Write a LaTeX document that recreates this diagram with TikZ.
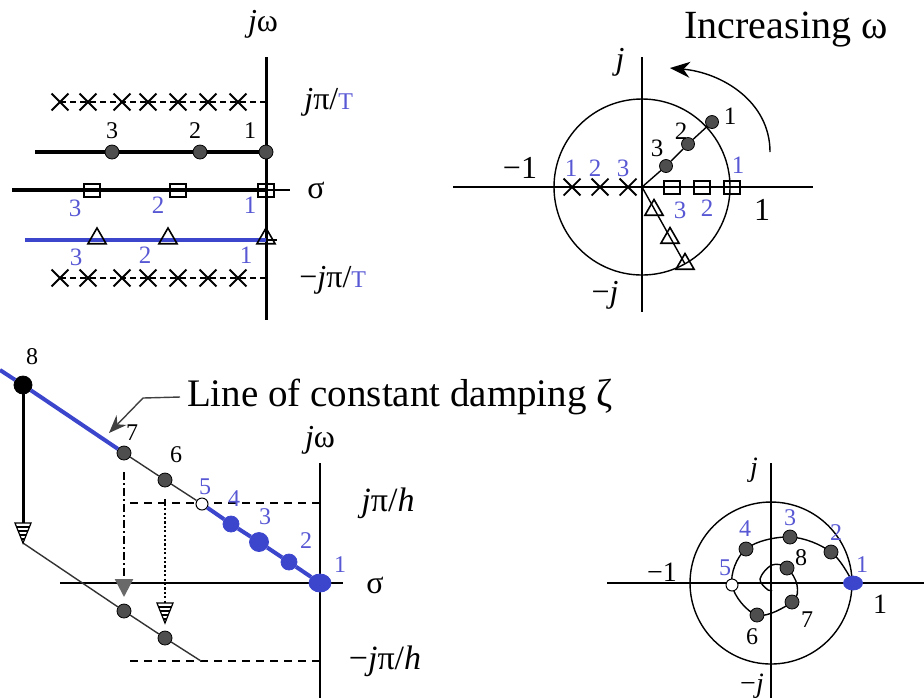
\documentclass[tikz,border=0pt]{standalone}
\usepackage{fontspec}
\setmainfont{Liberation Serif}
\usetikzlibrary{shapes.geometric, shapes.misc, arrows.meta}

\definecolor{zblue}{RGB}{60,70,205}
\definecolor{nblue}{RGB}{88,88,212}
\definecolor{dotgray}{RGB}{78,78,78}

% striped arrow head, tip at #1
\newcommand{\hatchhead}[1]{%
  \begin{scope}[shift={#1}]
    \draw[fill=white, line width=0.6pt] (-8,-20) -- (8,-20) -- (0,0) -- cycle;
    \foreach \s in {4,8,12,16}
      \draw[line width=0.9pt] (-0.4*\s,-\s) -- (0.4*\s,-\s);
  \end{scope}}

\begin{document}
\begin{tikzpicture}[x=0.5pt, y=-0.5pt,
    pole/.style={circle, draw=black, fill=dotgray, line width=0.4pt, inner sep=0, minimum size=7pt},
    opendot/.style={circle, draw=black, fill=white, line width=0.5pt, inner sep=0, minimum size=6pt},
    bluedot/.style={circle, draw=zblue, fill=zblue, inner sep=0, minimum size=8pt},
    sq/.style={rectangle, draw, line width=1pt, inner sep=0, minimum width=8pt, minimum height=6.5pt},
    tri/.style={regular polygon, regular polygon sides=3, draw, line width=0.8pt, inner sep=0, minimum size=10.5pt},
    xmark/.style={cross out, draw, line width=0.9pt, inner sep=0, minimum size=7.5pt},
    num/.style={font=\fontsize{12}{14}\selectfont, inner sep=1pt},
    bnum/.style={num, text=nblue, font=\fontsize{12.5}{14}\selectfont},
    lbl/.style={font=\fontsize{16}{19}\selectfont, inner sep=1pt},
    row/.style={line width=2pt},
    thinline/.style={line width=0.7pt}]
\useasboundingbox (0,0) rectangle (924,698);

% ---------- top left: s-plane strips ----------
\draw[line width=1.5pt] (266,57) -- (266,320);
\node[lbl] (jwa) at (263,24) {\textit{j}ω};
\node[lbl, anchor=west] (pta) at (302,102) {\textit{j}π/\textcolor{nblue}{\fontsize{12}{14}\selectfont T}};
\node[lbl, anchor=west] (sga) at (305,190) {σ};
\node[lbl, anchor=west] (mpta) at (297,280) {−\textit{j}π/\textcolor{nblue}{\fontsize{12}{14}\selectfont T}};

% crosses at the strip edges
\foreach \x [count=\i] in {60,88,122,148,178,208,238} {
  \node[xmark] (xa\i) at (\x,102) {};
  \node[xmark] (xb\i) at (\x,278) {};
}
\coordinate (xae) at (266,102);
\coordinate (xbe) at (266,278);
\draw[dash pattern=on 3pt off 2pt, line width=0.8pt] (xa1.center) -- (xae);
\draw[dash pattern=on 3pt off 2pt, line width=0.8pt] (xb1.center) -- (xbe);

% dots
\node[pole] (d1) at (266,152) {};
\node[pole] (d2) at (200,152) {};
\node[pole] (d3) at (112,152) {};
\coordinate (d0) at (35,152);
\draw[row] (d0) -- (d3) -- (d2) -- (d1);
\node[num] (nd3) at (112,131) {3};
\node[num] (nd2) at (195,131) {2};
\node[num] (nd1) at (250,131) {1};

% squares
\coordinate (s0) at (12,190);
\node[sq] (s3) at (92,190) {};
\node[sq] (s2) at (178,190) {};
\node[sq] (s1) at (266,190) {};
\coordinate (se) at (290,190);
\draw[row] (s0) -- (s1.center);
\draw[line width=1pt] (s1.center) -- (se);
\node[bnum] (ns3) at (75,208) {3};
\node[bnum] (ns2) at (158,205) {2};
\node[bnum] (ns1) at (250,205) {1};

% triangles
\coordinate (t0) at (25,240);
\coordinate (tm) at (266,240);
\coordinate (te) at (277,240);
\draw[row, zblue] (t0) -- (tm);
\draw[line width=1pt] (tm) -- (te);
\node[tri] (t3) at (97,238.5) {};
\node[tri] (t2) at (168,238.5) {};
\node[tri] (t1) at (266,238.5) {};
\node[bnum] (nt3) at (76,257) {3};
\node[bnum] (nt2) at (145,255) {2};
\node[bnum] (nt1) at (246,255) {1};

% ---------- top right: z-plane ----------
\coordinate (o1) at (642,187);
\draw[thinline] (453,187) -- (813,187);
\draw[thinline] (642,57) -- (642,312);
\draw[thinline] (o1) circle[radius=44pt];
\node[lbl] (jb) at (620,62) {\textit{j}};
\node[lbl] (mjb) at (605,295) {−\textit{j}};
\node[lbl] (m1b) at (520,168) {−1};
\node[lbl] (p1b) at (762,210) {1};

\node[xmark] (g1) at (572,187) {};
\node[xmark] (g2) at (600,187) {};
\node[xmark] (g3) at (628,187) {};
\node[bnum] (ng1) at (571,168) {1};
\node[bnum] (ng2) at (595,168) {2};
\node[bnum] (ng3) at (623,168) {3};

\node[sq] (h3) at (672,187) {};
\node[sq] (h2) at (702,187) {};
\node[sq] (h1) at (732,187) {};
\node[bnum] (nh3) at (680,210) {3};
\node[bnum] (nh2) at (707,208) {2};
\node[bnum] (nh1) at (738,165) {1};

\node[pole, minimum size=6.5pt] (e3) at (666,166) {};
\node[pole, minimum size=6.5pt] (e2) at (688,144) {};
\node[pole, minimum size=6.5pt] (e1) at (712,122) {};
\draw[thinline] (o1) -- (e3) -- (e2) -- (e1);
\node[num, font=\fontsize{12.5}{14}\selectfont] (ne3) at (657,148) {3};
\node[num, font=\fontsize{12.5}{14}\selectfont] (ne2) at (681,131) {2};
\node[num, font=\fontsize{12.5}{14}\selectfont] (ne1) at (730,116) {1};

\node[tri] (f3) at (654,210) {};
\node[tri] (f2) at (670,238) {};
\node[tri] (f1) at (685,264) {};
\draw[thinline] (o1) -- (f1.center);

\node[font=\fontsize{20}{24}\selectfont] (incw) at (786,30) {Increasing ω};
\coordinate (arc0) at (770,152);
\coordinate (arc1) at (670,68);
\draw[thinline, -{Stealth[length=10pt, width=8pt]}] (arc0) to[out=90, in=-5] (arc1);

% ---------- bottom left: s-plane, constant damping ----------
\draw[line width=1.3pt] (320,463) -- (320,698);
\draw[line width=1.3pt] (60,583) -- (343,583);
\node[lbl] (jwc) at (320,440) {\textit{j}ω};
\node[lbl] (sgc) at (375,585) {σ};
\node[lbl, font=\fontsize{17}{20}\selectfont] (ptc) at (388,503) {\textit{j}π/\textit{h}};
\node[lbl, font=\fontsize{17}{20}\selectfont] (mptc) at (385,661) {−\textit{j}π/\textit{h}};
\coordinate (hu0) at (130,503);
\coordinate (hu1) at (320,503);
\coordinate (hl0) at (130,661);
\coordinate (hl1) at (320,661);
\draw[dash pattern=on 4pt off 3pt, line width=0.8pt] (hu0) -- (hu1);
\draw[dash pattern=on 4pt off 3pt, line width=0.8pt] (hl0) -- (hl1);

% poles along the line of constant damping
\coordinate (p0) at (0,370);
\node[pole, fill=black, minimum size=9pt] (p8) at (23,385) {};
\node[pole] (p7) at (124,453) {};
\node[pole] (p6) at (165,480) {};
\node[opendot] (p5) at (202,504) {};
\node[bluedot] (p4) at (231,524) {};
\node[bluedot, minimum size=9.5pt] (p3) at (259,542) {};
\node[bluedot] (p2) at (289,562) {};
\node[ellipse, draw=zblue, fill=zblue, inner sep=0, minimum width=11pt, minimum height=9pt] (p1) at (320,583) {};
\draw[row, zblue] (p0) -- (p8) -- (p7);
\draw[thinline, black!80] (p7) -- (p6) -- (p5);
\draw[row, zblue] (p5) -- (p4) -- (p3) -- (p2) -- (p1);
\node[num] (np8) at (32,357) {8};
\node[num] (np7) at (132,433) {7};
\node[num] (np6) at (176,455) {6};
\node[bnum, font=\fontsize{12}{14}\selectfont] (np5) at (205,487) {5};
\node[bnum, font=\fontsize{12}{14}\selectfont] (np4) at (234,499) {4};
\node[bnum, font=\fontsize{12}{14}\selectfont] (np3) at (265,517) {3};
\node[bnum, font=\fontsize{12}{14}\selectfont] (np2) at (306,541) {2};
\node[bnum, font=\fontsize{12}{14}\selectfont] (np1) at (340,565) {1};

% aliased poles
\coordinate (q8) at (23,543);
\node[pole] (q7) at (124,611) {};
\node[pole] (q6) at (165,638) {};
\coordinate (qe) at (201,661);
\draw[thinline, black!80] (q8) -- (q7) -- (q6) -- (qe);

% mapping arrows
\coordinate (a8) at (23,523);
\draw[line width=1.5pt] (p8) -- (a8);
\hatchhead{(q8)}
\coordinate (a7) at (124,597);
\draw[line width=1.3pt, dash pattern=on 4pt off 1.5pt on 1pt off 1.5pt,
      -{Triangle[length=9pt, width=9pt, fill=dotgray!85, color=dotgray!85]}] ([yshift=-6pt]p7.south) -- (a7);
\coordinate (a6) at (165,603);
\draw[line width=1.3pt, dash pattern=on 1.1pt off 1.1pt] ([yshift=-6pt]p6.south) -- (a6);
\hatchhead{(165,623)}

% damping label
\node[font=\fontsize{19.5}{23}\selectfont, anchor=west] (ldamp) at (180,397) {Line of constant damping ζ};
\coordinate (lk) at (143,398);
\coordinate (lt) at (109,433);
\draw[thinline, black!75, -{Stealth[length=9pt, width=7pt]}] (ldamp.west) -- (lk) -- (lt);

% ---------- bottom right: z-plane spiral ----------
\coordinate (o2) at (771,583);
\draw[thinline] (607,583) -- (924,583);
\draw[thinline] (771,463) -- (771,698);
\draw[thinline] (o2) circle[radius=40.5pt];
\node[lbl, font=\fontsize{14}{16}\selectfont] (jd) at (754,470) {\textit{j}};
\node[lbl, font=\fontsize{14}{16}\selectfont] (mjd) at (752,686) {−\textit{j}};
\node[lbl, font=\fontsize{14}{16}\selectfont] (m1d) at (662,572) {−1};
\node[lbl, font=\fontsize{14}{16}\selectfont] (p1d) at (880,604) {1};

\coordinate (c1) at (853,583);
\coordinate (c2) at (831,552);
\coordinate (c3) at (790,537);
\coordinate (c4) at (746,549);
\coordinate (c5) at (732,585);
\coordinate (c6) at (757,615);
\coordinate (c7) at (792,602);
\coordinate (c8) at (787,568);
\draw[thinline] plot[smooth, tension=0.6] coordinates {(c1) (c2) (c3) (c4) (c5) (c6) (c7) (797,585) (c8) (772,565) (760,579) (768,590) (772,590)};
\node[ellipse, draw=zblue, fill=zblue, inner sep=0, minimum width=9.5pt, minimum height=7pt] (r1) at (c1) {};
\node[pole] (r2) at (c2) {};
\node[pole] (r3) at (c3) {};
\node[pole] (r4) at (c4) {};
\node[opendot] (r5) at (c5) {};
\node[pole] (r6) at (c6) {};
\node[pole] (r7) at (c7) {};
\node[pole] (r8) at (c8) {};
\node[bnum, font=\fontsize{12}{14}\selectfont] (nr1) at (862,565) {1};
\node[bnum, font=\fontsize{12}{14}\selectfont] (nr2) at (836,533) {2};
\node[bnum, font=\fontsize{12}{14}\selectfont] (nr3) at (790,518) {3};
\node[bnum, font=\fontsize{12}{14}\selectfont] (nr4) at (745,529) {4};
\node[bnum, font=\fontsize{12}{14}\selectfont] (nr5) at (725,568) {5};
\node[num] (nr6) at (752,637) {6};
\node[num] (nr7) at (807,620) {7};
\node[num] (nr8) at (801,558) {8};
\end{tikzpicture}
\end{document}
